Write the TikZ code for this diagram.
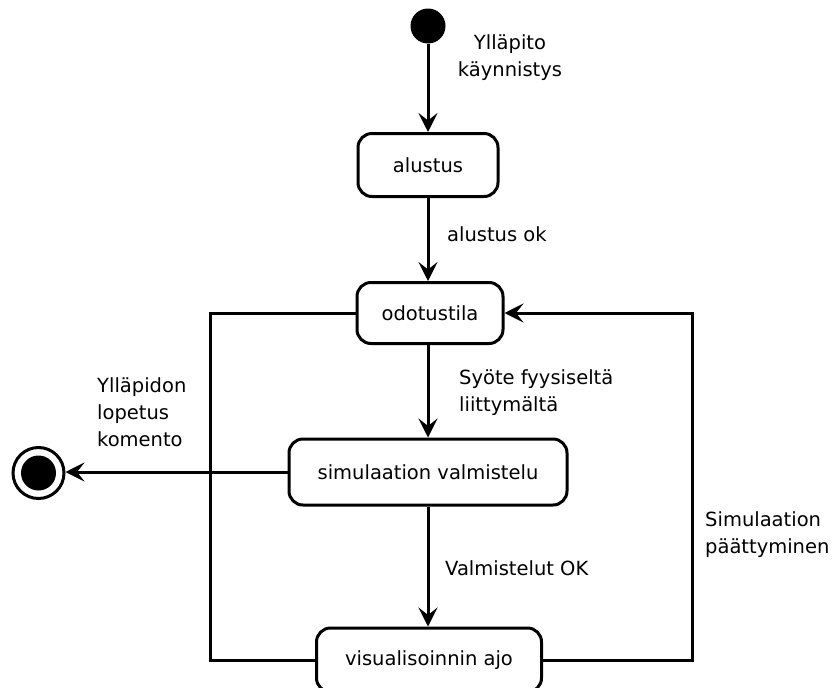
\documentclass[tikz,border=0pt]{standalone}
\usepackage{fontspec}
\setmainfont{DejaVu Sans}
\usetikzlibrary{arrows.meta}
\newcommand\diagfont{\fontsize{19.5}{27}\selectfont}
\begin{document}
\begin{tikzpicture}[x=1pt,y=-1pt,
  state/.style={draw, line width=3pt, rounded corners=14pt,
    minimum height=63pt, inner sep=0pt, font=\diagfont},
  initial/.style={circle, fill=black, minimum size=35pt, inner sep=0pt},
  finalring/.style={circle, draw, line width=3pt, minimum size=51pt, inner sep=0pt},
  lbl/.style={inner sep=0pt, font=\diagfont},
  wire/.style={line width=3pt},
  flow/.style={wire, -{Stealth[length=19pt, width=19pt, inset=7.5pt]}}]
\useasboundingbox (0,0) rectangle (833,688);

% states
\node[initial] (start) at (428,26) {};
\node[state, minimum width=140pt] (alustus) at (428,165) {alustus};
\node[state, minimum width=146pt, minimum height=61pt] (odotus) at (430,313) {odotustila};
\node[state, minimum width=278pt, minimum height=66pt] (valm) at (428,472) {simulaation valmistelu};
\node[state, minimum width=225pt, minimum height=64pt] (visu) at (429,660) {visualisoinnin ajo};
\node[finalring] (final) at (38.5,473) {};
\node[initial] (finalcore) at (final) {};

% loop corners
\coordinate (lc) at (210,660);
\coordinate (rc) at (692,660);

% transitions
\draw[flow] (start) -- (start |- alustus.north);
\draw[flow] (alustus) -- (alustus |- odotus.north);
\draw[flow] (odotus.south -| valm) -- (valm.north);
\draw[flow] (valm) -- (valm |- visu.north);
\draw[flow] (valm.west) -- (valm.west -| final.east);
\draw[wire] (visu.west) -- (lc) |- (odotus.west);
\draw[flow] (visu.east) -- (rc) |- (odotus.east);

% transition labels
\node[lbl, align=center] (tstart) at (510,58) {Ylläpito\\käynnistys};
\node[lbl, anchor=west] (tinit) at (447,234) {alustus ok};
\node[lbl, anchor=west, align=left] (tinput) at (459,393) {Syöte fyysiseltä\\liittymältä};
\node[lbl, anchor=west, align=left] (tquit) at (97,412) {Ylläpidon\\lopetus\\komento};
\node[lbl, anchor=west] (tready) at (445,568) {Valmistelut OK};
\node[lbl, anchor=west, align=left] (tend) at (705,535) {Simulaation\\päättyminen};
\end{tikzpicture}
\end{document}
